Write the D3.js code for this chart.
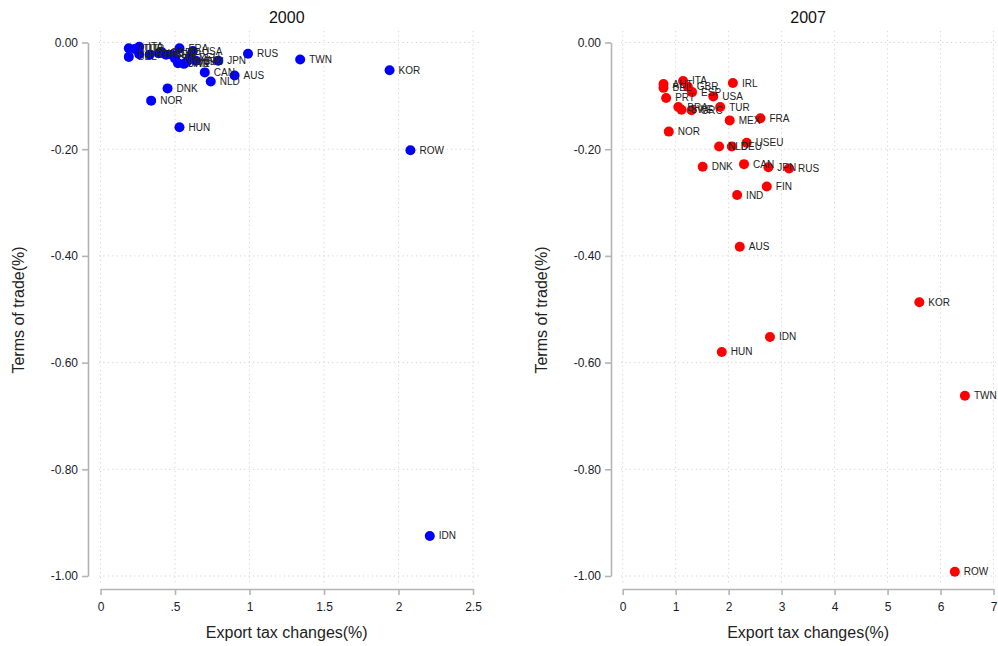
<!doctype html>
<html lang='en'>
<head>
<meta charset="utf-8">
<script src="https://d3js.org/d3.v7.min.js"></script>
<title>Terms of trade vs export tax</title>
<style>
  body { margin: 0; background: #fff; }
  svg { font-family: "Liberation Sans", Arial, sans-serif; }
  .grid line { stroke: #d4d4d4; stroke-dasharray: 1.2 3.2; stroke-width: 1; }
  .axis path, .axis line { stroke: #b4b4b4; stroke-width: 1.6; }
  .axis text { font-size: 12px; fill: #1b1b2b; }
  .lbl { font-size: 10px; fill: #222; }
</style>
</head>
<body>
<div id="chart"></div>
<script>
// 2000 panel
const countries2000 = ['AUT','BEL','ITA','PRT','TUR','GRC','GBR','IRL','BRA','ESP','MEX','FRA','SWE','USEU','DEU','FIN','USA','IND',
                       'JPN','CAN','NLD','AUS','RUS','TWN','KOR','ROW','IDN','DNK','NOR','HUN'];
const x2000 = [0.19,0.19,0.26,0.26,0.23,0.33,0.41,0.39,0.44,0.48,0.50,0.53,0.52,0.58,0.60,0.56,0.62,0.64,
               0.79,0.70,0.74,0.90,0.99,1.34,1.94,2.08,2.21,0.45,0.34,0.53];
const y2000 = [-0.011,-0.027,-0.008,-0.022,-0.012,-0.023,-0.018,-0.020,-0.023,-0.023,-0.030,-0.011,-0.039,-0.036,-0.028,-0.040,-0.016,-0.034,
               -0.034,-0.056,-0.073,-0.062,-0.021,-0.032,-0.052,-0.202,-0.925,-0.086,-0.109,-0.159];

// 2007 panel
const countries2007 = ['IRL','ITA','AUT','BEL','GBR','ESP','USA','PRT','BRA','SWE','GRC','TUR','MEX','FRA','NOR','USEU','NLD','DEU',
                       'DNK','CAN','JPN','RUS','FIN','IND','AUS','KOR','IDN','HUN','TWN','ROW'];
const x2007 = [2.08,1.14,0.77,0.77,1.23,1.31,1.71,0.82,1.05,1.11,1.30,1.84,2.02,2.60,0.87,2.34,1.82,2.06,
               1.51,2.29,2.75,3.14,2.72,2.16,2.21,5.60,2.78,1.87,6.46,6.27];
const y2007 = [-0.076,-0.072,-0.078,-0.085,-0.083,-0.093,-0.101,-0.104,-0.121,-0.126,-0.127,-0.121,-0.146,-0.142,-0.167,-0.188,-0.195,-0.195,
               -0.233,-0.228,-0.234,-0.236,-0.270,-0.286,-0.383,-0.487,-0.552,-0.580,-0.662,-0.992];

const yTicks = [0,-0.2,-0.4,-0.6,-0.8,-1];
const xTicks2000 = [0,0.5,1,1.5,2,2.5];
const xTicks2007 = [0,1,2,3,4,5,6,7];

const panels = [
  {title:'2000', names:countries2000, xs:x2000, ys:y2000, xTicks:xTicks2000, color:'#0000ff',
   xRange:[100.5,473], yAxisX:88, gridX:[99,480], titleY:24},
  {title:'2007', names:countries2007, xs:x2007, ys:y2007, xTicks:xTicks2007, color:'#ff0000',
   xRange:[622.7,993.5], yAxisX:611, gridX:[621,997], titleY:545}
];

const svg = d3.select('#chart').append('svg').attr('width',998).attr('height',646);

const yRange = [42.5,576];
const xAxisY = 589;

panels.forEach(p => {
  const x = d3.scaleLinear().domain([0, d3.max(p.xTicks)]).range(p.xRange);
  const y = d3.scaleLinear().domain([0,-1]).range(yRange);
  const g = svg.append('g');

  // grid
  const grid = g.append('g').attr('class','grid');
  grid.selectAll('.h').data(yTicks).enter().append('line')
    .attr('x1', p.gridX[0]).attr('x2', p.gridX[1])
    .attr('y1', d => y(d)).attr('y2', d => y(d));
  grid.selectAll('.v').data(p.xTicks).enter().append('line')
    .attr('x1', d => x(d)).attr('x2', d => x(d))
    .attr('y1', 31).attr('y2', 584);

  // axes
  g.append('g').attr('class','axis')
    .attr('transform','translate(' + p.yAxisX + ',0)')
    .call(d3.axisLeft(y).tickValues(yTicks).tickSize(6).tickSizeOuter(0).tickPadding(4)
      .tickFormat(d => d.toFixed(2)));
  g.append('g').attr('class','axis')
    .attr('transform','translate(0,' + xAxisY + ')')
    .call(d3.axisBottom(x).tickValues(p.xTicks).tickSize(6).tickSizeOuter(0).tickPadding(7)
      .tickFormat(d => String(d).replace(/^0\./,'.')));

  // titles
  const cx = (p.xRange[0] + p.xRange[1]) / 2;
  g.append('text').attr('x', cx).attr('y', 23).attr('text-anchor','middle')
    .style('font-size','16px').style('fill','#111').text(p.title);
  g.append('text').attr('x', cx).attr('y', 638).attr('text-anchor','middle')
    .style('font-size','16px').style('fill','#222').text('Export tax changes(%)');
  g.append('text').attr('transform','translate(' + (p.yAxisX - 64) + ',310) rotate(-90)')
    .attr('text-anchor','middle')
    .style('font-size','16px').style('fill','#222').text('Terms of trade(%)');

  // points and labels
  const pts = p.names.map((n,i) => ({name:n, x:p.xs[i], y:p.ys[i]}));
  g.selectAll('circle').data(pts).enter().append('circle')
    .attr('cx', d => x(d.x)).attr('cy', d => y(d.y)).attr('r', 5)
    .attr('fill', p.color);
  g.selectAll('.lbl').data(pts).enter().append('text')
    .attr('class','lbl')
    .attr('x', d => x(d.x) + 9).attr('y', d => y(d.y) + 3.5)
    .text(d => d.name);
});
</script>
</body>
</html>
